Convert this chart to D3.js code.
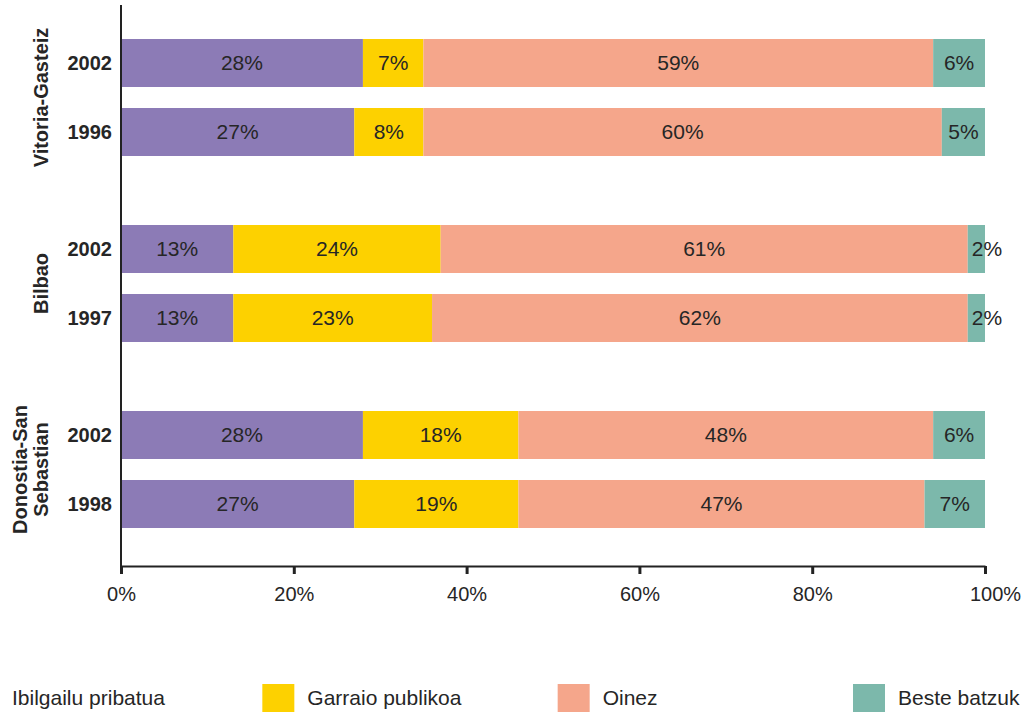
<!DOCTYPE html>
<html>
<head>
<meta charset="utf-8">
<script src="https://cdn.jsdelivr.net/npm/d3@7"></script>
<style>
  html, body { margin: 0; padding: 0; background: #fff; }
  svg { display: block; font-family: "Liberation Sans", Arial, sans-serif; }
</style>
</head>
<body>
<svg id="chart" width="1024" height="712"></svg>
<script>
// ---- data ----
const cities = ["Vitoria-Gasteiz", "Bilbao", "Donostia-San Sebastian"];
const cityLines = [["Vitoria-Gasteiz"], ["Bilbao"], ["Donostia-San", "Sebastian"]];
const years = [["2002", "1996"], ["2002", "1997"], ["2002", "1998"]];
const seriesNames = ["Ibilgailu pribatua", "Garraio publikoa", "Oinez", "Beste batzuk"];
const privateVals = [28, 27, 13, 13, 28, 27];
const publicVals  = [7, 8, 24, 23, 18, 19];
const walkVals    = [59, 60, 61, 62, 48, 47];
const otherVals   = [6, 5, 2, 2, 6, 7];
const tickValues  = [0, 20, 40, 60, 80, 100];
const tickLabels  = ["0%", "20%", "40%", "60%", "80%", "100%"];

const colors = ["#8c7bb6", "#fdd100", "#f5a68b", "#7cb8ab"];
const textColor = "#262626";

// ---- build rows ----
const seriesVals = [privateVals, publicVals, walkVals, otherVals];
const rows = [];
cities.forEach((c, ci) => {
  years[ci].forEach((y, yi) => {
    const idx = ci * 2 + yi;
    let cum = 0;
    const segs = seriesVals.map((arr, si) => {
      const s = { series: si, x0: cum, x1: cum + arr[idx], v: arr[idx] };
      cum += arr[idx];
      return s;
    });
    rows.push({ city: c, ci, year: y, yi, segs });
  });
});

const svg = d3.select("#chart");

const x = d3.scaleLinear().domain([0, 100]).range([121, 985]);
const outer = d3.scaleBand().domain(cities).range([39, 528]).paddingInner(69 / 186).paddingOuter(0);
const inner = d3.scaleBand().domain([0, 1]).range([0, outer.bandwidth()]).paddingInner(21 / 69).paddingOuter(0);
const rowY = r => outer(r.city) + inner(r.yi);

// ---- bars ----
const rowG = svg.append("g").selectAll("g.row").data(rows).join("g")
  .attr("class", "row")
  .attr("transform", r => `translate(0,${rowY(r)})`);

rowG.selectAll("rect").data(r => r.segs).join("rect")
  .attr("x", d => x(d.x0))
  .attr("y", 0)
  .attr("width", d => x(d.x1) - x(d.x0))
  .attr("height", inner.bandwidth())
  .attr("fill", d => colors[d.series]);

rowG.selectAll("text.val").data(r => r.segs).join("text")
  .attr("class", "val")
  .attr("x", d => (x(d.x1) - x(d.x0)) < 30 ? x(d.x0) + 4 : (x(d.x0) + x(d.x1)) / 2)
  .attr("text-anchor", d => (x(d.x1) - x(d.x0)) < 30 ? "start" : "middle")
  .attr("y", inner.bandwidth() / 2)
  .attr("dy", "0.35em")
  .attr("font-size", 21)
  .attr("fill", textColor)
  .text(d => d.v + "%");

// year labels
rowG.append("text")
  .attr("x", 112)
  .attr("y", inner.bandwidth() / 2)
  .attr("dy", "0.35em")
  .attr("text-anchor", "end")
  .attr("font-size", 20)
  .attr("font-weight", "bold")
  .attr("fill", textColor)
  .text(r => r.year);

// city labels (rotated)
cities.forEach((c, ci) => {
  const cy = outer(c) + outer.bandwidth() / 2;
  const lines = cityLines[ci];
  const lineH = 21;
  const baseX = 48;
  const t = svg.append("text")
    .attr("transform", `translate(0,${cy}) rotate(-90)`)
    .attr("text-anchor", "middle")
    .attr("font-size", 20)
    .attr("font-weight", "bold")
    .attr("fill", textColor);
  lines.forEach((ln, li) => {
    t.append("tspan")
      .attr("x", 0)
      .attr("y", baseX - (lines.length - 1 - li) * lineH)
      .text(ln);
  });
});

// ---- axes ----
const axisY = 566;
const xAxis = d3.axisBottom(x)
  .tickValues(tickValues)
  .tickFormat((d, i) => tickLabels[i])
  .tickSize(8)
  .tickPadding(13)
  .tickSizeOuter(0);

const gx = svg.append("g").attr("transform", `translate(0,${axisY})`).call(xAxis);
gx.select(".domain").attr("stroke", "#222").attr("stroke-width", 2);
gx.selectAll(".tick line").attr("stroke", "#222").attr("stroke-width", 3);
gx.selectAll(".tick text")
  .attr("font-size", 20)
  .attr("font-family", "'Liberation Sans', Arial, sans-serif")
  .attr("fill", textColor)
  .attr("dx", (d, i) => i === tickValues.length - 1 ? 10 : 0);

svg.append("line")
  .attr("x1", x(0)).attr("x2", x(0))
  .attr("y1", 5).attr("y2", axisY)
  .attr("stroke", "#222").attr("stroke-width", 2);

// ---- legend ----
const lx = d3.scaleLinear().domain([0, 3]).range([-33, 853]);
const lg = svg.append("g").selectAll("g").data(seriesNames).join("g")
  .attr("transform", (d, i) => `translate(${lx(i)},684)`);
lg.append("rect")
  .attr("width", 32).attr("height", 32)
  .attr("fill", (d, i) => colors[i]);
lg.append("text")
  .attr("x", 45)
  .attr("y", 21)
  .attr("font-size", 21)
  .attr("fill", textColor)
  .text(d => d);
</script>
</body>
</html>
